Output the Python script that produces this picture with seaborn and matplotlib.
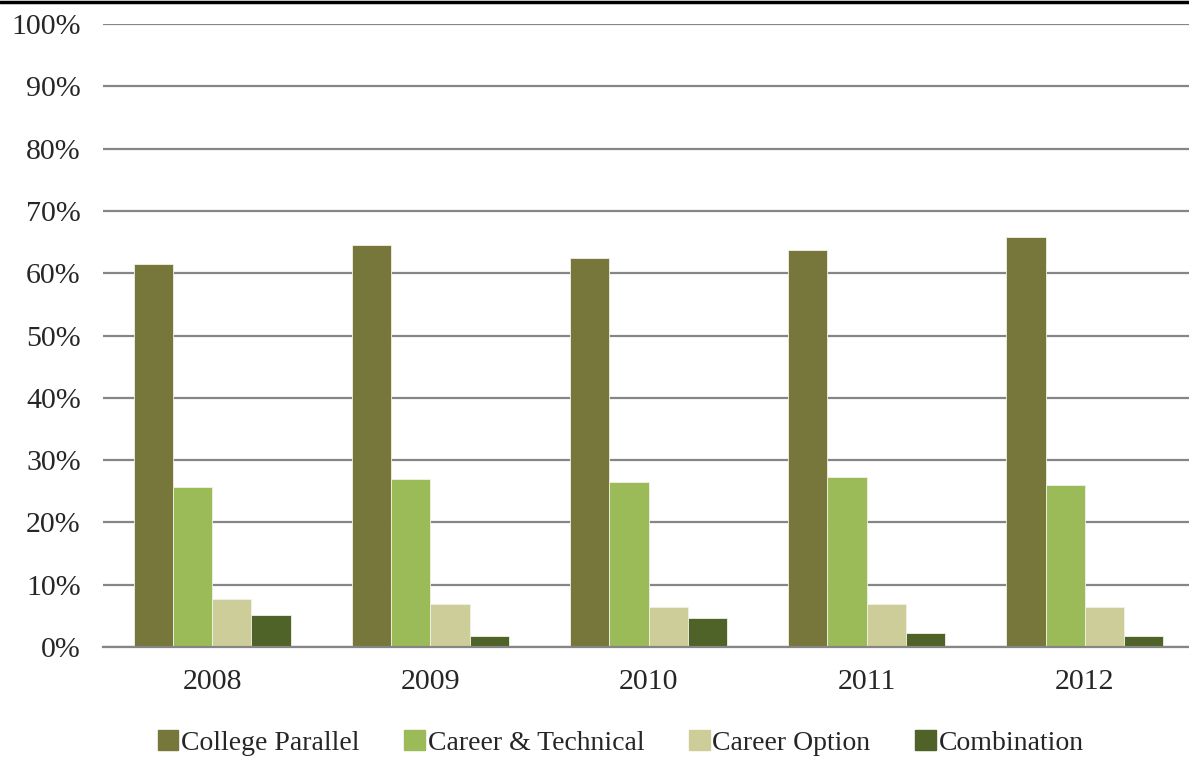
import numpy as np
import pandas as pd
import matplotlib
matplotlib.use('Agg')
import matplotlib.pyplot as plt
import seaborn as sns
from matplotlib.lines import Line2D
from matplotlib.ticker import FixedLocator, PercentFormatter

## data (percent of students by program type)
years = ['2008', '2009', '2010', '2011', '2012']
programs = ['College Parallel', 'Career & Technical', 'Career Option', 'Combination']
college_parallel = [61.5, 64.5, 62.4, 63.7, 65.8]
career_technical = [25.7, 27.0, 26.5, 27.3, 26.0]
career_option = [7.7, 6.9, 6.4, 6.9, 6.4]
combination = [5.1, 1.8, 4.7, 2.2, 1.8]
colors = ['#77763B', '#9BBB59', '#CDCD9A', '#4F6228']

## long-form table for seaborn
df = pd.DataFrame({
    'year': years * 4,
    'program': [p for p in programs for _ in years],
    'pct': college_parallel + career_technical + career_option + combination,
})

sns.set_style('white')
plt.rcParams['font.family'] = ['Liberation Serif', 'DejaVu Serif']

fig = plt.figure(figsize=(11.89, 7.59), dpi=100)
ax = fig.add_axes([103 / 1189, 1 - 647 / 759, 1091 / 1189, (647 - 24) / 759])

sns.barplot(data=df, x='year', y='pct', hue='program', order=years, hue_order=programs,
            palette=colors, width=0.72, gap=0, edgecolor='#F2F2E6', linewidth=0.6,
            saturation=1, ax=ax, zorder=3)

ax.set_xlim(-0.5, 4.5)
ax.set_ylim(0, 100)
ax.set_yticks(np.arange(0, 101, 10))
ax.yaxis.set_major_formatter(PercentFormatter(decimals=0))
ax.grid(axis='y', color='#868686', linewidth=1.6, zorder=0)
ax.set_axisbelow(True)

for s in ['top', 'right', 'left']:
    ax.spines[s].set_visible(False)
ax.spines['bottom'].set_color('#868686')
ax.spines['bottom'].set_linewidth(1.6)
ax.spines['bottom'].set_zorder(4)

ax.tick_params(axis='y', length=0, pad=16, labelsize=21.5)
ax.tick_params(axis='x', which='major', length=0, pad=16, labelsize=21.5)
ax.xaxis.set_minor_locator(FixedLocator(np.arange(-0.5, 5, 1)))
ax.tick_params(axis='x', which='minor', length=7, width=1.6, color='#868686', direction='out')
ax.set_xlabel('')
ax.set_ylabel('')

ax.legend_.remove()
handles = [plt.Rectangle((0, 0), 1, 1, color=c) for c in colors]
fig.legend(handles, programs, loc='center', bbox_to_anchor=(0.522, 0.021), ncol=4,
           frameon=False, fontsize=20, handlelength=0.75, handleheight=0.75,
           handletextpad=0.1, columnspacing=1.6, borderaxespad=0)

## frame line across the top edge
fig.add_artist(Line2D([0, 1], [0.998, 0.998], color='black', linewidth=2.5))

fig.savefig('out.png', dpi=100)
